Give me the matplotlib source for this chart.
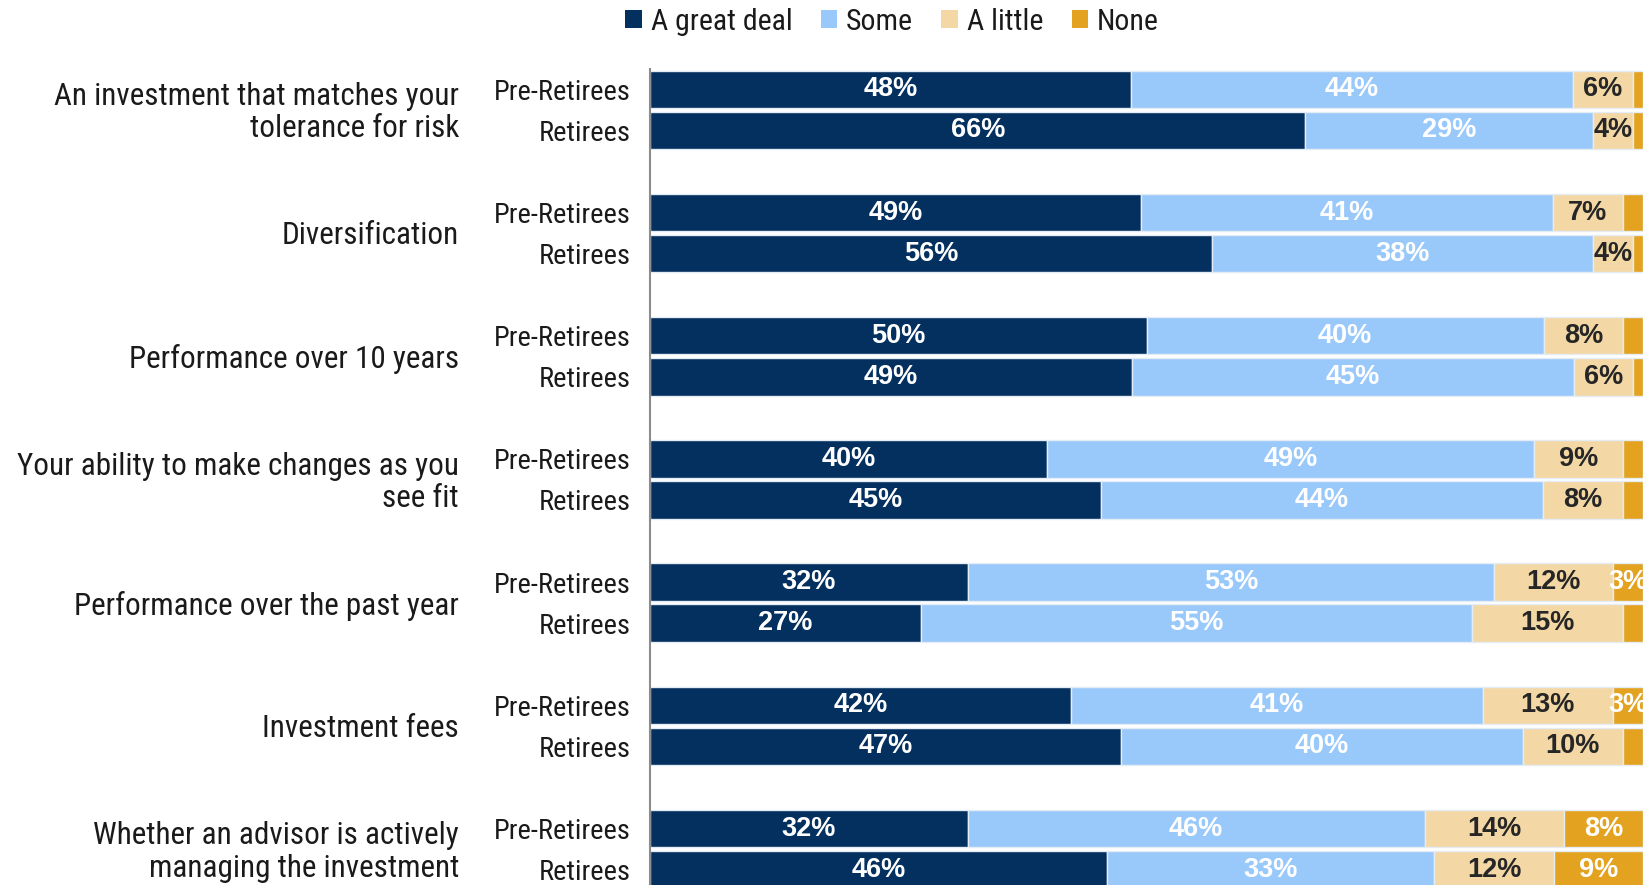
import matplotlib
matplotlib.use("Agg")
import matplotlib.pyplot as plt
import matplotlib.transforms as mtransforms
from matplotlib import font_manager
from matplotlib.patches import Patch
import numpy as np

installed = {f.name for f in font_manager.fontManager.ttflist}
narrow_choices = ["Liberation Sans Narrow", "Arial Narrow", "Arimo Narrow",
                  "Roboto Condensed", "Archivo Narrow", "PT Sans Narrow", "Liberation Sans"]
narrow = next(n for n in narrow_choices if n in installed)
plt.rcParams["font.family"] = ["Liberation Sans", "DejaVu Sans"]
label_family = [narrow, "Liberation Sans", "DejaVu Sans"]

categories = [
    "An investment that matches your\ntolerance for risk",
    "Diversification",
    "Performance over 10 years",
    "Your ability to make changes as you\nsee fit",
    "Performance over the past year",
    "Investment fees",
    "Whether an advisor is actively\nmanaging the investment",
]
groups = ["Pre-Retirees", "Retirees"]
series_names = ["A great deal", "Some", "A little", "None"]

# rows: (Pre-Retirees, Retirees) for each category
great_deal = [(48, 66), (49, 56), (50, 49), (40, 45), (32, 27), (42, 47), (32, 46)]
some       = [(44, 29), (41, 38), (40, 45), (49, 44), (53, 55), (41, 40), (46, 33)]
a_little   = [(6, 4),   (7, 4),   (8, 6),   (9, 8),   (12, 15), (13, 10), (14, 12)]
none       = [(1, 1),   (2, 1),   (2, 1),   (2, 2),   (3, 2),   (3, 2),   (8, 9)]
# which None values carry a printed label
none_labeled = [(False, False), (False, False), (False, False), (False, False),
                (True, False), (True, False), (True, True)]

colors = ["#03305F", "#99C9FA", "#F3D8A5", "#E3A21F"]
text_colors = ["white", "white", "#262626", "white"]

W, H = 1652, 885
fig = plt.figure(figsize=(W / 100, H / 100), dpi=100)

# axes geometry in pixels
ax_left_px, ax_right_px = 650, 1643
ax_top_px, ax_bot_px = 69, 885
ax = fig.add_axes([ax_left_px / W, 1 - ax_bot_px / H,
                   (ax_right_px - ax_left_px) / W, (ax_bot_px - ax_top_px) / H])

pitch_px = 41.07
group_step = 3.0
first_center_px = 89.3
bar_h = 37.5 / pitch_px

ytop = -(first_center_px - ax_top_px) / pitch_px
ybot = (ax_bot_px - first_center_px) / pitch_px

series = [great_deal, some, a_little, none]
trans = mtransforms.blended_transform_factory(fig.transFigure, ax.transData)
ypos, ylabels = [], []
for ci in range(len(categories)):
    for gi in range(2):
        y = ci * group_step + gi
        vals = np.array([s[ci][gi] for s in series], dtype=float)
        scaled = vals / vals.sum() * 100.0
        left = 0.0
        for si in range(4):
            ax.barh(y, scaled[si], left=left, height=bar_h, color=colors[si],
                    edgecolor="#E4ECF5", linewidth=1.0)
            if si < 3 or none_labeled[ci][gi]:
                ax.text(left + scaled[si] / 2, y, f"{int(vals[si])}%",
                        ha="center", va="center", fontsize=19.5, fontweight="bold",
                        color=text_colors[si], clip_on=True)
            left += scaled[si]
        ypos.append(y)
        ylabels.append(groups[gi])
    # category label centred between the two bars
    ax.text(459 / W, ci * group_step + 0.57, categories[ci], transform=trans,
            ha="right", va="center", fontsize=22.4, color="#1a1a1a",
            linespacing=1.15, multialignment="right", family=label_family)

ax.set_xlim(0, 100)
ax.set_ylim(ybot, ytop)
ax.set_yticks(ypos)
ax.set_yticklabels(ylabels, fontsize=20.5, color="#1a1a1a", family=label_family)
ax.tick_params(axis="y", length=0, pad=14)
ax.set_xticks([])
for side in ["top", "right", "bottom"]:
    ax.spines[side].set_visible(False)
ax.spines["left"].set_color("#8C8C8C")
ax.spines["left"].set_linewidth(1.5)
ax.spines["left"].set_zorder(5)

handles = [Patch(facecolor=c, edgecolor="none") for c in colors]
fig.legend(handles, series_names, loc="center", bbox_to_anchor=(892 / W, 1 - 22 / H),
           ncol=4, frameon=False, handlelength=0.55, handleheight=0.55,
           handletextpad=0.3, columnspacing=0.95, labelcolor="#1a1a1a",
           borderpad=0.0, prop={"family": label_family, "size": 21.5})

fig.savefig("out.png", dpi=100)
